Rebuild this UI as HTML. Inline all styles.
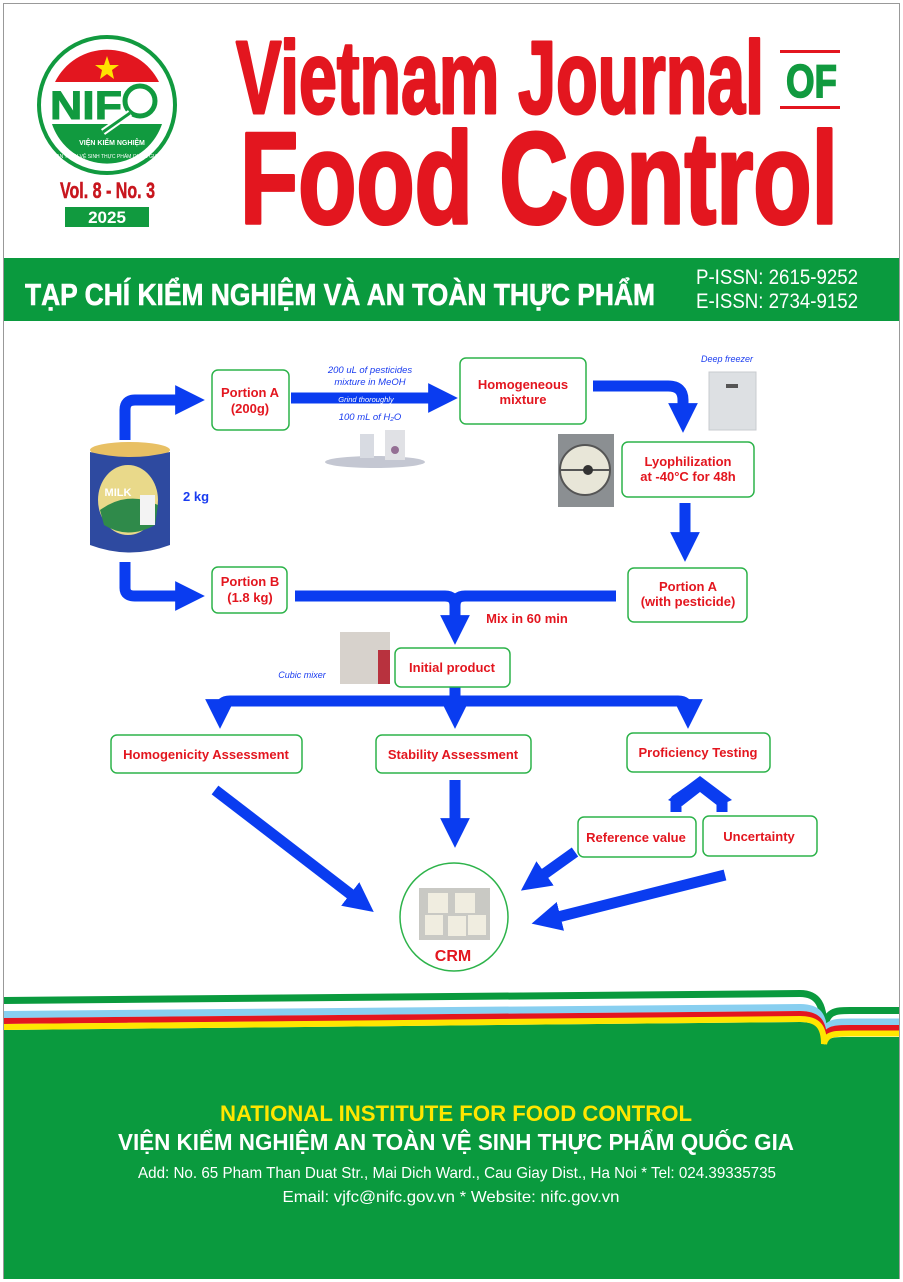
<!DOCTYPE html>
<html><head><meta charset="utf-8"><style>
html,body{margin:0;padding:0;background:#fff}
svg{display:block}
text{font-family:"Liberation Sans",sans-serif}
.n{font-family:"Liberation Sans Narrow","Liberation Sans",sans-serif}
</style></head><body>
<svg width="903" height="1282" viewBox="0 0 903 1282" xmlns="http://www.w3.org/2000/svg">
<defs>
<marker id="ah" viewBox="0 0 10 10" refX="5" refY="5" markerWidth="2.7" markerHeight="2.8" orient="auto" markerUnits="strokeWidth"><path d="M0,0 L10,5 L0,10 z" fill="#0a3cf0"/></marker>
</defs>
<rect x="3.5" y="3.5" width="896" height="1275" fill="#fff" stroke="#999" stroke-width="1"/>

<!-- Logo -->
<circle cx="107" cy="105" r="68" fill="#fff" stroke="#119a3f" stroke-width="4"/>
<path d="M55,82 A58,58 0 0 1 159,82 Z" fill="#e3161f"/>
<polygon points="107,56 110,65 119,65 112,70 114,79 107,74 100,79 102,70 95,65 104,65" fill="#ffe200"/>
<path d="M52,124 L162,124 A58,58 0 0 1 52,124 Z" fill="#119a3f"/>
<text x="50" y="119" font-size="40" font-weight="bold" fill="#119a3f" stroke="#119a3f" stroke-width="1" textLength="72" lengthAdjust="spacingAndGlyphs">NIF</text>
<circle cx="140" cy="101" r="15" fill="none" stroke="#119a3f" stroke-width="5"/>
<line x1="130" y1="113" x2="103" y2="132" stroke="#fff" stroke-width="7"/>
<line x1="130" y1="113" x2="103" y2="132" stroke="#119a3f" stroke-width="3"/>
<text x="112" y="145" font-size="7" fill="#fff" text-anchor="middle" font-weight="bold">VIỆN KIỂM NGHIỆM</text>
<text x="107" y="158" font-size="5" fill="#fff" text-anchor="middle">AN TOÀN VỆ SINH THỰC PHẨM QUỐC GIA</text>
<text x="60" y="198" font-size="22" font-weight="bold" fill="#c8161e" stroke="#c8161e" stroke-width="0.5" textLength="95" lengthAdjust="spacingAndGlyphs">Vol. 8 - No. 3</text>
<rect x="65" y="207" width="84" height="20" fill="#119a3f"/>
<text x="107" y="223" font-size="17" font-weight="bold" fill="#fff" text-anchor="middle">2025</text>

<!-- Title -->
<text x="236" y="113" font-size="103" font-weight="bold" fill="#e3161f" stroke="#e3161f" stroke-width="3" stroke-linejoin="round" textLength="528" lengthAdjust="spacingAndGlyphs">Vietnam Journal</text>
<rect x="780" y="50" width="60" height="3" fill="#e3161f"/>
<rect x="780" y="106" width="60" height="3" fill="#e3161f"/>
<text x="786" y="97" font-size="46" font-weight="bold" fill="#119a3f" stroke="#119a3f" stroke-width="1.5" textLength="51" lengthAdjust="spacingAndGlyphs">OF</text>
<text x="240" y="223" font-size="130" font-weight="bold" fill="#e3161f" stroke="#e3161f" stroke-width="3.5" stroke-linejoin="round" textLength="598" lengthAdjust="spacingAndGlyphs">Food Control</text>

<!-- Green band -->
<rect x="4" y="258" width="895" height="63" fill="#0a9a3e"/>
<text x="25" y="305" font-size="31" font-weight="bold" fill="#fff" stroke="#fff" stroke-width="0.6" textLength="630" lengthAdjust="spacingAndGlyphs">TẠP CHÍ KIỂM NGHIỆM VÀ AN TOÀN THỰC PHẨM</text>
<text x="696" y="284" font-size="21" fill="#fff" class="n" textLength="162" lengthAdjust="spacingAndGlyphs">P-ISSN: 2615-9252</text>
<text x="696" y="308" font-size="21" fill="#fff" class="n" textLength="162" lengthAdjust="spacingAndGlyphs">E-ISSN: 2734-9152</text>

<!-- Diagram arrows -->
<g fill="none" stroke="#0a3cf0" stroke-width="11" stroke-linejoin="round">
<path d="M125,440 L125,410 Q125,400 135,400 L190,400" marker-end="url(#ah)"/>
<path d="M125,562 L125,588 Q125,596 135,596 L190,596" marker-end="url(#ah)"/>
<path d="M291,398 L443,398" marker-end="url(#ah)"/>
<path d="M593,386 L668,386 Q683,386 683,400 L683,418" marker-end="url(#ah)"/>
<path d="M685,503 L685,547" marker-end="url(#ah)"/>
<path d="M295,596 L445,596 Q455,596 455,606 L455,630" marker-end="url(#ah)"/>
<path d="M616,596 L465,596 Q455,596 455,606"/>
<path d="M455,687 L455,714" marker-end="url(#ah)"/>
<path d="M220,714 L220,710 Q220,701 230,701 L678,701 Q688,701 688,710 L688,714" marker-end="url(#ah)"/>
<path d="M220,708 L220,714" marker-end="url(#ah)"/>
<path d="M215,790 L362,903" marker-end="url(#ah)"/>
<path d="M455,780 L455,833" marker-end="url(#ah)"/>
<path d="M575,852 L533,882" marker-end="url(#ah)"/>
<path d="M725,875 L546,920" marker-end="url(#ah)"/>
<path d="M676,812 L676,800 L698,785" />
<path d="M722,812 L722,800 L700,785" />
</g>
<polygon points="700,776 668,800 682,806 700,792 718,806 732,800" fill="#0a3cf0"/>

<!-- Boxes -->
<g fill="#fff" stroke="#2db34a" stroke-width="1.5">
<rect x="212" y="370" width="77" height="60" rx="6"/>
<rect x="460" y="358" width="126" height="66" rx="6"/>
<rect x="622" y="442" width="132" height="55" rx="6"/>
<rect x="628" y="568" width="119" height="54" rx="6"/>
<rect x="212" y="567" width="75" height="46" rx="6"/>
<rect x="395" y="648" width="115" height="39" rx="6"/>
<rect x="111" y="735" width="191" height="38" rx="6"/>
<rect x="376" y="735" width="155" height="38" rx="6"/>
<rect x="627" y="733" width="143" height="39" rx="6"/>
<rect x="578" y="817" width="118" height="40" rx="6"/>
<rect x="703" y="816" width="114" height="40" rx="6"/>
<ellipse cx="454" cy="917" rx="54" ry="54"/>
</g>
<g fill="#e3161f" font-weight="bold" font-size="13" text-anchor="middle">
<text x="250" y="397">Portion A</text><text x="250" y="413">(200g)</text>
<text x="523" y="389">Homogeneous</text><text x="523" y="404">mixture</text>
<text x="688" y="466">Lyophilization</text><text x="688" y="481">at -40°C for 48h</text>
<text x="688" y="591">Portion A</text><text x="688" y="606">(with pesticide)</text>
<text x="250" y="586">Portion B</text><text x="250" y="602">(1.8 kg)</text>
<text x="527" y="623">Mix in 60 min</text>
<text x="452" y="672">Initial product</text>
<text x="206" y="759">Homogenicity Assessment</text>
<text x="453" y="759">Stability Assessment</text>
<text x="698" y="757">Proficiency Testing</text>
<text x="636" y="842">Reference value</text>
<text x="759" y="841">Uncertainty</text>
<text x="453" y="961" font-size="16">CRM</text>
</g>
<g fill="#1a3cf0" font-style="italic" font-size="9.5" text-anchor="middle">
<text x="370" y="373">200 uL of pesticides</text>
<text x="370" y="385">mixture in MeOH</text>
<text x="370" y="420">100 mL of H₂O</text>
<text x="727" y="362" font-size="9">Deep freezer</text>
<text x="302" y="678" font-size="9">Cubic mixer</text>
</g>
<text x="366" y="402" font-size="7.5" fill="#fff" font-style="italic" text-anchor="middle">Grind thoroughly</text>
<text x="183" y="501" font-size="13" font-weight="bold" fill="#1a3cf0">2 kg</text>

<!-- images approximations -->
<ellipse cx="130" cy="450" rx="40" ry="8" fill="#e8c064"/>
<path d="M90,452 L90,545 Q130,560 170,545 L170,452 Q130,462 90,452 Z" fill="#2e4aa0"/>
<ellipse cx="128" cy="500" rx="30" ry="35" fill="#e9d98a"/>
<path d="M100,510 Q128,490 158,505 L155,525 Q128,540 104,525 Z" fill="#2f8a4a"/>
<rect x="140" y="495" width="15" height="30" fill="#f3f3f3"/>
<text x="118" y="496" font-size="11" fill="#fff" font-weight="bold" text-anchor="middle">MILK</text>
<rect x="709" y="372" width="47" height="58" fill="#dde0e3" stroke="#c8cbcf"/>
<rect x="726" y="384" width="12" height="4" fill="#555"/>
<rect x="558" y="434" width="56" height="73" fill="#8b8f92"/>
<circle cx="585" cy="470" r="25" fill="#e8e6d8" stroke="#555" stroke-width="2"/>
<line x1="560" y1="470" x2="610" y2="470" stroke="#555" stroke-width="2"/>
<circle cx="588" cy="470" r="5" fill="#333"/>
<g opacity="0.8">
<ellipse cx="375" cy="462" rx="50" ry="6" fill="#b6bac8"/>
<rect x="360" y="434" width="14" height="24" fill="#cfd3db"/>
<rect x="385" y="430" width="20" height="30" fill="#d9dadf"/>
<circle cx="395" cy="450" r="4" fill="#7a4c7a"/>
</g>
<rect x="340" y="632" width="50" height="52" fill="#d7d2cc"/>
<rect x="378" y="650" width="12" height="34" fill="#b8323e"/>
<rect x="419" y="888" width="71" height="52" fill="#c9c9c4"/>
<rect x="428" y="893" width="20" height="20" fill="#f0ede0"/>
<rect x="455" y="893" width="20" height="20" fill="#f0ede0"/>
<rect x="425" y="915" width="18" height="20" fill="#f0ede0"/>
<rect x="448" y="916" width="18" height="20" fill="#f0ede0"/>
<rect x="468" y="915" width="18" height="20" fill="#f0ede0"/>

<!-- Footer -->
<path d="M4,1030 L800,1022 C818,1022 824,1030 824,1045 C826,1037 835,1037 850,1037 L899,1037 L899,1279 L4,1279 Z" fill="#0a9a3e"/>
<g fill="none">
<path d="M4,1000.5 L800,993.5 C818,993.5 824,1005 824,1030 C826,1011 835,1010.5 850,1010.5 L899,1010.5" stroke="#0a9a3e" stroke-width="7"/>
<path d="M4,1014.5 L800,1007.5 C818,1007.5 824,1015 824,1036 C826,1022 835,1022 850,1022 L899,1022" stroke="#88cff0" stroke-width="7"/>
<path d="M4,1021 L800,1014 C818,1014 824,1022 824,1040 C826,1028 835,1028 850,1028 L899,1028" stroke="#e3161f" stroke-width="6"/>
<path d="M4,1027 L800,1019 C818,1019 824,1027 824,1044 C826,1033.5 835,1033.5 850,1033.5 L899,1033.5" stroke="#ffe600" stroke-width="6"/>
</g>

<text x="456" y="1121" font-size="22" font-weight="bold" fill="#ffe600" text-anchor="middle" textLength="472" lengthAdjust="spacingAndGlyphs">NATIONAL INSTITUTE FOR FOOD CONTROL</text>
<text x="456" y="1150" font-size="23" font-weight="bold" fill="#fff" text-anchor="middle" textLength="676" lengthAdjust="spacingAndGlyphs">VIỆN KIỂM NGHIỆM AN TOÀN VỆ SINH THỰC PHẨM QUỐC GIA</text>
<text x="457" y="1178" font-size="16" fill="#fff" text-anchor="middle" class="n" textLength="638" lengthAdjust="spacingAndGlyphs">Add: No. 65 Pham Than Duat Str., Mai Dich Ward., Cau Giay Dist., Ha Noi * Tel: 024.39335735</text>
<text x="451" y="1202" font-size="16" fill="#fff" text-anchor="middle" class="n" textLength="337" lengthAdjust="spacingAndGlyphs">Email: vjfc@nifc.gov.vn * Website: nifc.gov.vn</text>
</svg>
</body></html>
